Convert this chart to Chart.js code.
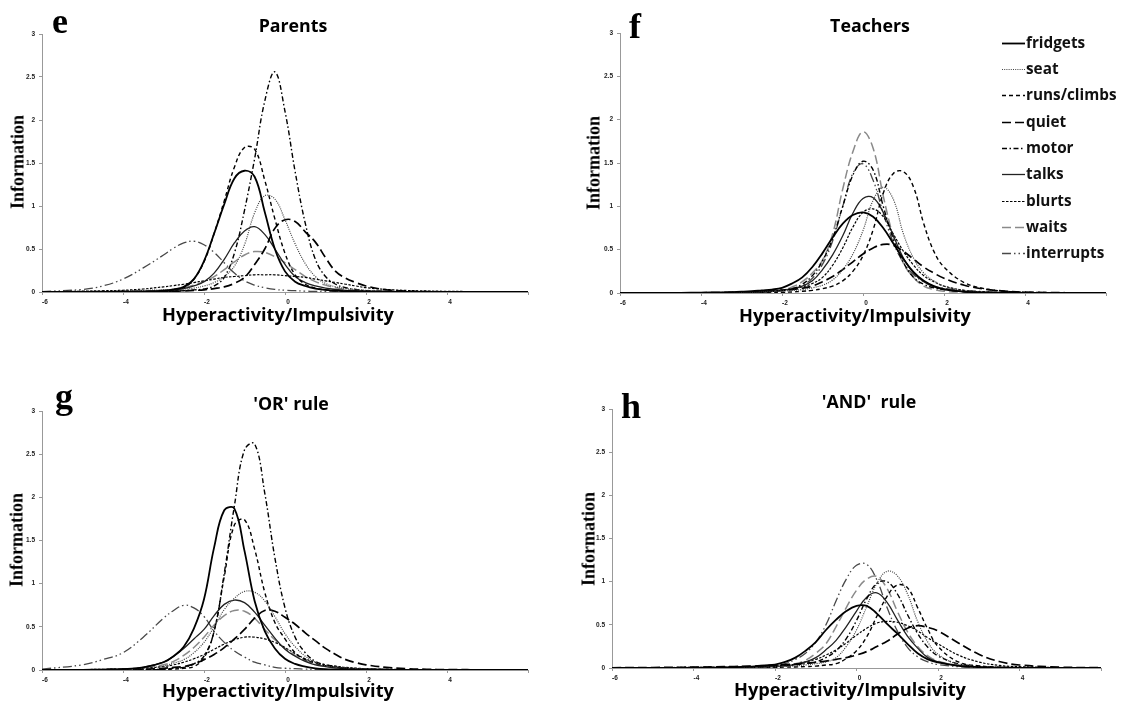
<!DOCTYPE html>
<html>
<head>
<meta charset="utf-8">
<title>Item information curves</title>
<script src="https://cdn.jsdelivr.net/npm/chart.js@4.4.1/dist/chart.umd.min.js"></script>
<style>
  body { margin: 0; background: #fff; }
  #page { position: relative; width: 1123px; height: 706px; overflow: hidden; background: #fff; }
  #page canvas { position: absolute; }
  .txt { position: absolute; white-space: pre; line-height: 1; color: #000; }
  .letter { font: bold 36px 'Liberation Serif', serif; }
  .title { font: bold 17.8px 'Open Sans', sans-serif; transform: translateX(-50%); }
  .xtitle { font: bold 18.2px 'Open Sans', sans-serif; transform: translateX(-50%); }
  .ytitle { font: bold 18px 'Liberation Serif', serif; transform: translate(-50%, -50%) rotate(-90deg); }
  .legend-row { position: absolute; height: 20px; line-height: 20px; display: flex; white-space: pre;
                font: bold 15.3px 'Open Sans', sans-serif; color: #111; }
  .legend-row svg { flex: none; }
</style>
</head>
<body>
<div id="page"></div>
<script>
// theta grid shared by every curve
const thetaGrid = [-6,-5,-4.5,-4,-3.5,-3,-2.75,-2.5,-2.25,-2,-1.75,-1.5,-1.25,-1,-0.75,-0.5,-0.25,0,0.25,0.5,0.75,1,1.25,1.5,1.75,2,2.5,3,3.5,4,5,6]
const xTicks = [-6, -4, -2, 0, 2, 4]
const yTicks = [0, 0.5, 1, 1.5, 2, 2.5, 3]
const items = ['fridgets', 'seat', 'runs/climbs', 'quiet', 'motor', 'talks', 'blurts', 'waits', 'interrupts']

// information values, one row per item (same order as items)
const parentsInfo = [
  [0,0,0.001,0.003,0.006,0.015,0.03,0.06,0.15,0.36,0.68,1.02,1.32,1.41,1.34,0.93,0.5,0.24,0.12,0.07,0.04,0.025,0.015,0.01,0.007,0.005,0.003,0.002,0.001,0,0,0],
  [0,0.01,0.012,0.015,0.02,0.025,0.03,0.035,0.045,0.07,0.11,0.18,0.3,0.55,0.92,1.12,1.08,0.84,0.56,0.33,0.18,0.1,0.06,0.04,0.03,0.02,0.01,0.005,0.003,0.002,0,0],
  [0,0,0,0.002,0.004,0.01,0.02,0.05,0.15,0.35,0.68,1.06,1.45,1.68,1.66,1.3,0.85,0.45,0.2,0.09,0.045,0.025,0.015,0.01,0.007,0.005,0.003,0.002,0.001,0,0,0],
  [0,0,0,0.001,0.003,0.006,0.009,0.013,0.018,0.025,0.04,0.06,0.1,0.17,0.32,0.5,0.74,0.84,0.82,0.7,0.58,0.4,0.24,0.16,0.11,0.07,0.025,0.01,0.005,0.002,0,0],
  [0,0,0,0,0.002,0.005,0.01,0.015,0.025,0.035,0.07,0.17,0.45,0.95,1.55,2.22,2.56,2.1,1.4,0.8,0.38,0.18,0.09,0.05,0.03,0.015,0.007,0.003,0.001,0,0,0],
  [0,0.001,0.002,0.003,0.005,0.01,0.02,0.04,0.07,0.12,0.22,0.38,0.57,0.71,0.76,0.67,0.5,0.32,0.18,0.11,0.07,0.045,0.03,0.02,0.015,0.01,0.005,0.002,0.001,0,0,0],
  [0.002,0.01,0.015,0.02,0.035,0.06,0.075,0.09,0.11,0.13,0.15,0.17,0.18,0.19,0.2,0.2,0.2,0.19,0.18,0.17,0.15,0.13,0.11,0.09,0.07,0.05,0.03,0.018,0.012,0.008,0.004,0.002],
  [0,0.002,0.004,0.008,0.013,0.02,0.03,0.05,0.08,0.12,0.18,0.26,0.35,0.43,0.47,0.46,0.41,0.34,0.26,0.18,0.12,0.08,0.05,0.03,0.02,0.012,0.006,0.003,0.001,0,0,0],
  [0.005,0.03,0.07,0.15,0.28,0.43,0.51,0.57,0.59,0.55,0.46,0.34,0.22,0.13,0.08,0.05,0.03,0.02,0.015,0.01,0.007,0.005,0.003,0.002,0.001,0.001,0,0,0,0,0,0]
]
const teachersInfo = [
  [0,0.001,0.002,0.004,0.008,0.015,0.02,0.03,0.04,0.06,0.11,0.18,0.3,0.46,0.64,0.8,0.9,0.93,0.88,0.75,0.57,0.39,0.24,0.14,0.08,0.045,0.015,0.006,0.002,0.001,0,0],
  [0,0,0,0.001,0.003,0.006,0.008,0.012,0.017,0.025,0.03,0.04,0.06,0.09,0.15,0.27,0.45,0.72,1.07,1.22,1.08,0.68,0.4,0.23,0.14,0.08,0.03,0.01,0.004,0.002,0,0],
  [0,0,0,0,0,0.001,0.002,0.003,0.005,0.008,0.012,0.02,0.03,0.05,0.08,0.14,0.25,0.43,0.73,1.15,1.38,1.4,1.22,0.8,0.48,0.3,0.12,0.05,0.02,0.01,0.002,0],
  [0,0.001,0.002,0.003,0.005,0.009,0.012,0.016,0.022,0.03,0.04,0.055,0.08,0.13,0.19,0.27,0.36,0.45,0.52,0.56,0.55,0.48,0.39,0.3,0.23,0.17,0.09,0.045,0.022,0.01,0.003,0.001],
  [0,0,0,0.001,0.002,0.005,0.008,0.012,0.02,0.03,0.05,0.1,0.2,0.37,0.63,1.0,1.36,1.52,1.42,1.0,0.62,0.35,0.18,0.1,0.06,0.04,0.015,0.006,0.002,0.001,0,0],
  [0,0,0.001,0.002,0.003,0.005,0.007,0.01,0.02,0.03,0.05,0.08,0.14,0.27,0.44,0.66,0.92,1.09,1.1,0.93,0.66,0.4,0.23,0.13,0.07,0.04,0.015,0.006,0.002,0.001,0,0],
  [0,0.001,0.002,0.004,0.006,0.01,0.013,0.018,0.025,0.035,0.05,0.07,0.11,0.18,0.32,0.52,0.76,0.93,0.97,0.88,0.68,0.48,0.32,0.2,0.13,0.08,0.03,0.012,0.005,0.002,0,0],
  [0,0,0,0,0.001,0.003,0.005,0.008,0.015,0.03,0.07,0.13,0.23,0.38,0.68,1.2,1.63,1.86,1.67,1.12,0.65,0.34,0.18,0.08,0.04,0.02,0.008,0.003,0.001,0,0,0],
  [0,0.001,0.002,0.003,0.005,0.008,0.011,0.015,0.02,0.03,0.045,0.085,0.17,0.33,0.6,1.0,1.38,1.49,1.3,0.92,0.58,0.35,0.21,0.13,0.08,0.055,0.03,0.015,0.008,0.004,0.001,0]
]
const orRuleInfo = [
  [0,0.002,0.005,0.01,0.03,0.09,0.16,0.27,0.48,0.82,1.42,1.85,1.87,1.38,0.8,0.45,0.25,0.13,0.07,0.04,0.02,0.01,0.007,0.005,0.003,0.002,0.001,0,0,0,0,0],
  [0,0.002,0.005,0.01,0.02,0.045,0.08,0.12,0.2,0.32,0.5,0.7,0.83,0.91,0.9,0.8,0.62,0.42,0.27,0.16,0.09,0.05,0.035,0.025,0.018,0.012,0.006,0.003,0.001,0,0,0],
  [0,0,0,0,0.002,0.005,0.01,0.02,0.04,0.14,0.45,1.08,1.68,1.74,1.4,0.9,0.55,0.36,0.2,0.12,0.08,0.05,0.035,0.025,0.015,0.01,0.005,0.002,0.001,0,0,0],
  [0,0.002,0.003,0.006,0.01,0.02,0.03,0.04,0.07,0.12,0.18,0.26,0.36,0.47,0.6,0.69,0.68,0.61,0.53,0.43,0.34,0.25,0.18,0.12,0.085,0.06,0.03,0.015,0.008,0.005,0.002,0],
  [0,0,0,0,0.002,0.01,0.02,0.03,0.07,0.16,0.45,1.12,1.9,2.55,2.62,2.05,1.3,0.72,0.38,0.2,0.1,0.06,0.04,0.02,0.015,0.01,0.005,0.002,0.001,0,0,0],
  [0,0.002,0.005,0.01,0.03,0.09,0.16,0.25,0.36,0.47,0.63,0.76,0.81,0.78,0.67,0.52,0.37,0.24,0.16,0.1,0.06,0.04,0.025,0.015,0.01,0.008,0.004,0.002,0.001,0,0,0],
  [0.002,0.005,0.008,0.012,0.02,0.04,0.06,0.09,0.13,0.18,0.24,0.3,0.35,0.38,0.38,0.36,0.32,0.26,0.19,0.13,0.09,0.06,0.045,0.03,0.022,0.015,0.008,0.005,0.003,0.002,0,0],
  [0,0.003,0.006,0.012,0.025,0.06,0.1,0.17,0.26,0.38,0.52,0.63,0.69,0.68,0.6,0.47,0.35,0.25,0.17,0.11,0.07,0.04,0.03,0.02,0.014,0.01,0.005,0.002,0.001,0,0,0],
  [0.01,0.06,0.12,0.2,0.38,0.6,0.69,0.75,0.72,0.62,0.45,0.32,0.22,0.15,0.09,0.06,0.03,0.02,0.015,0.01,0.007,0.005,0.003,0.002,0.001,0.001,0,0,0,0,0,0]
]
const andRuleInfo = [
  [0,0.001,0.002,0.003,0.005,0.01,0.015,0.02,0.03,0.04,0.07,0.12,0.2,0.3,0.44,0.56,0.66,0.72,0.72,0.63,0.51,0.4,0.28,0.17,0.1,0.065,0.025,0.01,0.004,0.002,0,0],
  [0,0,0,0,0.001,0.002,0.003,0.005,0.008,0.012,0.018,0.025,0.035,0.05,0.07,0.12,0.25,0.44,0.71,0.98,1.12,1.07,0.86,0.54,0.3,0.16,0.04,0.015,0.006,0.003,0.001,0],
  [0,0,0,0,0,0.001,0.002,0.003,0.005,0.008,0.01,0.012,0.016,0.022,0.035,0.05,0.11,0.2,0.36,0.6,0.83,0.96,0.93,0.7,0.45,0.25,0.07,0.025,0.01,0.005,0.001,0],
  [0.003,0.006,0.008,0.01,0.013,0.017,0.02,0.023,0.027,0.032,0.038,0.045,0.055,0.065,0.08,0.1,0.12,0.15,0.19,0.25,0.31,0.39,0.46,0.49,0.47,0.43,0.29,0.16,0.075,0.035,0.01,0.003],
  [0,0,0,0.001,0.002,0.004,0.006,0.008,0.012,0.018,0.025,0.035,0.05,0.07,0.12,0.2,0.34,0.55,0.8,0.98,1.0,0.86,0.62,0.4,0.24,0.14,0.05,0.02,0.008,0.003,0.001,0],
  [0,0,0.001,0.002,0.004,0.007,0.01,0.013,0.016,0.02,0.028,0.04,0.07,0.12,0.21,0.32,0.48,0.66,0.82,0.87,0.76,0.56,0.37,0.23,0.12,0.07,0.03,0.01,0.004,0.002,0,0],
  [0.002,0.004,0.006,0.008,0.01,0.012,0.014,0.017,0.02,0.025,0.03,0.045,0.07,0.1,0.15,0.21,0.29,0.38,0.46,0.52,0.54,0.53,0.49,0.43,0.35,0.28,0.15,0.07,0.03,0.015,0.005,0.002],
  [0,0,0,0.001,0.002,0.004,0.006,0.01,0.015,0.025,0.035,0.05,0.09,0.17,0.28,0.48,0.7,0.9,1.03,1.06,0.92,0.66,0.42,0.25,0.14,0.08,0.03,0.01,0.004,0.002,0,0],
  [0,0,0,0.001,0.003,0.006,0.009,0.013,0.02,0.03,0.05,0.1,0.17,0.3,0.5,0.78,1.03,1.19,1.2,1.02,0.7,0.43,0.24,0.13,0.07,0.04,0.015,0.005,0.002,0.001,0,0]
]

// line look of each item (same order as items)
const lineStyles = [
  { borderColor: '#000', borderWidth: 1.8, borderDash: [] },
  { borderColor: '#444', borderWidth: 1.2, borderDash: [1, 1.2] },
  { borderColor: '#000', borderWidth: 1.4, borderDash: [4, 3] },
  { borderColor: '#000', borderWidth: 1.7, borderDash: [9, 4] },
  { borderColor: '#000', borderWidth: 1.4, borderDash: [5, 2.5, 1.5, 2.5] },
  { borderColor: '#222', borderWidth: 1.3, borderDash: [] },
  { borderColor: '#000', borderWidth: 1.2, borderDash: [2.5, 1.5] },
  { borderColor: '#8a8a8a', borderWidth: 1.5, borderDash: [9, 4] },
  { borderColor: '#484848', borderWidth: 1.3, borderDash: [9, 3, 1.5, 3, 1.5, 3] }
]

// page layout: plot area [left, top, right, bottom] and text anchors
const panels = [
  { letter: 'e', title: 'Parents', values: parentsInfo, area: [42, 34, 528, 292],
    letterAt: [52, -0.2], titleAt: [293, 12.5], xTitleAt: [278, 301.7], yTitleAt: [17.5, 161.7] },
  { letter: 'f', title: 'Teachers', values: teachersInfo, area: [620, 33, 1106, 293], legend: true,
    letterAt: [629, 4.8], titleAt: [870, 12.5], xTitleAt: [855, 303.3], yTitleAt: [594.2, 162.5] },
  { letter: 'g', title: "'OR' rule", values: orRuleInfo, area: [42, 411, 528, 670],
    letterAt: [55, 374.8], titleAt: [291, 390.9], xTitleAt: [278, 678.3], yTitleAt: [17, 540] },
  { letter: 'h', title: "'AND'  rule", values: andRuleInfo, area: [612, 409, 1101, 668],
    letterAt: [621, 384.8], titleAt: [869, 389.2], xTitleAt: [850, 676.8], yTitleAt: [588.8, 539] }
]

const page = document.getElementById('page')
const axisColor = '#999'
const tickFont = { family: "'Liberation Sans', Arial, sans-serif", size: 6.5, weight: 'bold' }

function addText(cls, text, x, y) {
  const d = document.createElement('div')
  d.className = 'txt ' + cls
  d.textContent = text
  d.style.left = x + 'px'
  d.style.top = y + 'px'
  page.appendChild(d)
  return d
}

function makeChart(p) {
  const [L, T, R, B] = p.area
  const padL = 44, padT = 12, padR = 16, padB = 24
  const cv = document.createElement('canvas')
  cv.width = R - L + padL + padR
  cv.height = B - T + padT + padB
  cv.style.left = (L - padL) + 'px'
  cv.style.top = (T - padT) + 'px'
  page.appendChild(cv)

  const datasets = items.map((name, i) => ({
    label: name,
    data: thetaGrid.map((x, k) => ({ x, y: p.values[i][k] })),
    ...lineStyles[i],
    pointRadius: 0,
    tension: 0.4,
    fill: false
  }))

  return new Chart(cv, {
    type: 'line',
    data: { datasets },
    options: {
      responsive: false,
      animation: false,
      devicePixelRatio: 1,
      layout: { padding: { left: 0, top: padT, right: padR, bottom: 0 } },
      plugins: { legend: { display: false }, tooltip: { enabled: false } },
      scales: {
        x: {
          type: 'linear', min: -6, max: 6,
          afterBuildTicks: s => { s.ticks = xTicks.concat([6]).map(v => ({ value: v })) },
          afterFit: s => { s.height = padB; s.paddingLeft = 0; s.paddingRight = 0 },
          ticks: { callback: v => (xTicks.includes(v) ? String(v) : ''), font: tickFont, color: '#222',
                   labelOffset: 3, padding: 3, maxRotation: 0, autoSkip: false },
          grid: { drawOnChartArea: false, tickLength: 3, color: axisColor },
          border: { color: axisColor, width: 1 }
        },
        y: {
          min: 0, max: 3,
          afterBuildTicks: s => { s.ticks = yTicks.map(v => ({ value: v })) },
          afterFit: s => { s.width = padL; s.paddingTop = 0; s.paddingBottom = 0 },
          ticks: { callback: v => String(v), font: tickFont, color: '#222', padding: 4 },
          grid: { drawOnChartArea: false, tickLength: 3, color: axisColor },
          border: { color: axisColor, width: 1 }
        }
      }
    }
  })
}

// legend built from the chart's own datasets
function buildLegend(chart, x0, y0, step) {
  chart.data.datasets.forEach((ds, i) => {
    const yLine = y0 + i * step
    const row = document.createElement('div')
    row.className = 'legend-row'
    row.style.left = x0 + 'px'
    row.style.top = (yLine - 11.5) + 'px'
    const dash = (ds.borderDash || []).join(' ')
    row.innerHTML = '<svg width="24" height="20"><line x1="0" y1="11.5" x2="23" y2="11.5" stroke="' + ds.borderColor +
      '" stroke-width="' + ds.borderWidth + '"' + (dash ? ' stroke-dasharray="' + dash + '"' : '') + '/></svg>'
    const span = document.createElement('span')
    span.textContent = ds.label
    row.appendChild(span)
    page.appendChild(row)
  })
}

panels.forEach(p => {
  const chart = makeChart(p)
  addText('letter', p.letter, p.letterAt[0], p.letterAt[1])
  addText('title', p.title, p.titleAt[0], p.titleAt[1])
  addText('xtitle', 'Hyperactivity/Impulsivity', p.xTitleAt[0], p.xTitleAt[1])
  addText('ytitle', 'Information', p.yTitleAt[0], p.yTitleAt[1])
  if (p.legend) buildLegend(chart, 1002, 43.3, 26.3)
})
</script>
</body>
</html>
